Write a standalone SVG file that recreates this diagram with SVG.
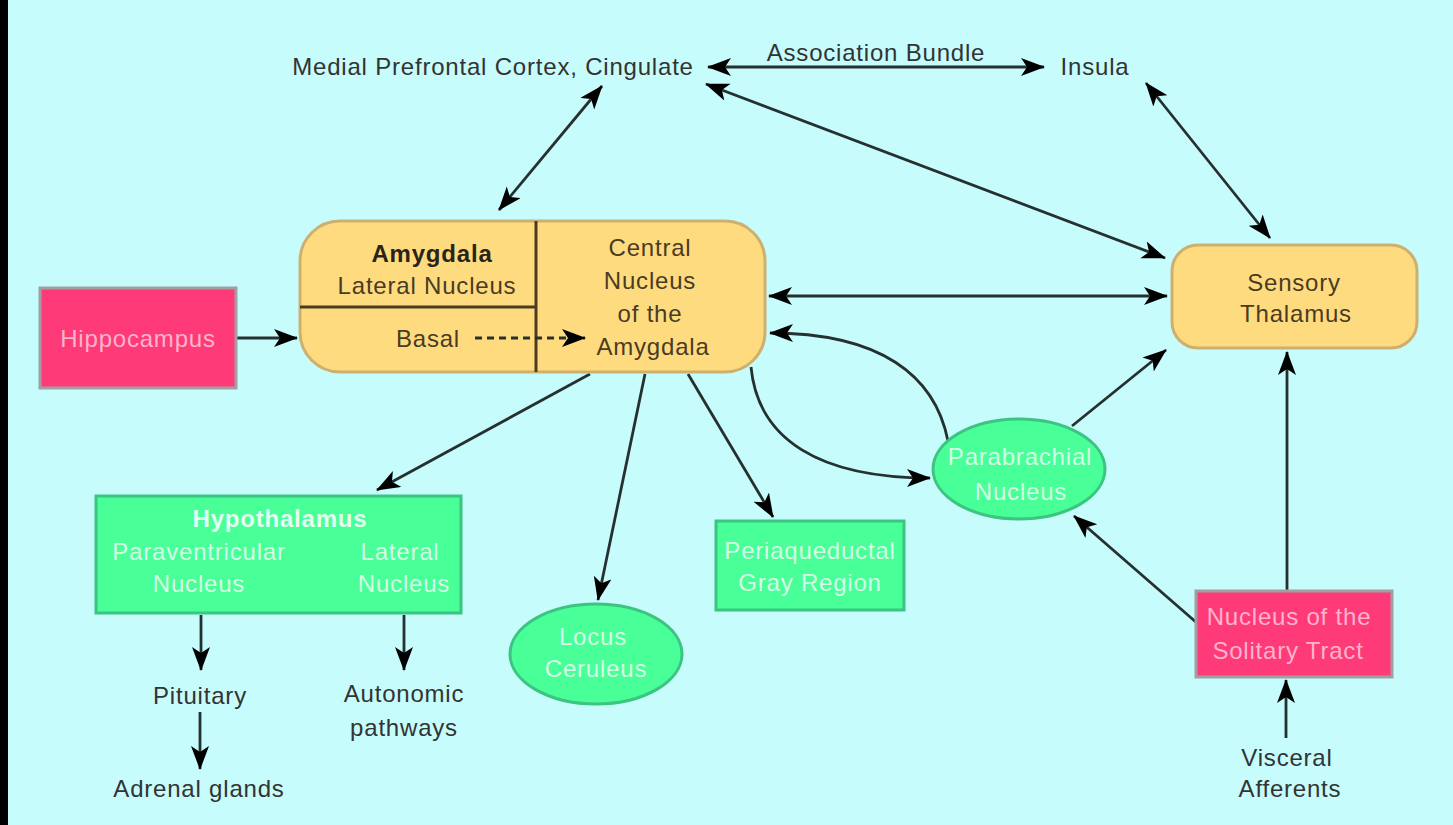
<svg xmlns="http://www.w3.org/2000/svg" width="1453" height="825" viewBox="0 0 1453 825">
<style>
text{font-family:"Liberation Sans",Arial,sans-serif;font-size:24px;letter-spacing:0.8px;text-anchor:middle}
.lbl{fill:#333}
.amy{fill:#4a3c22}
.grn{fill:#d4ffe4}
.pnk{fill:#ffb3cc}
.b{font-weight:bold;fill:#2a2418}
.grn.b{fill:#e4fff0}
.orange{fill:#ffdb80;stroke:#cdb06e;stroke-width:3}
.green{fill:#48ff98;stroke:#3cc482;stroke-width:3}
.pink{fill:#ff3a78;stroke:#a0a0a0;stroke-width:3}
.edge{fill:none;stroke:#263030;stroke-width:2.8}
</style>
<defs>
<marker id="ah" markerUnits="userSpaceOnUse" markerWidth="28" markerHeight="20" refX="23" refY="9" orient="auto-start-reverse" viewBox="0 0 28 20">
<path d="M0,0 L24,9 L0,18 L6,9 Z" fill="#000"/>
</marker>
</defs>
<rect x="0" y="0" width="1453" height="825" fill="#c6fcfc"/>
<rect x="0" y="0" width="8" height="825" fill="#000"/>

<g id="connectors">
<line class="edge" x1="602" y1="86" x2="499" y2="210" marker-start="url(#ah)" marker-end="url(#ah)"/>
<line class="edge" x1="708" y1="67" x2="1044" y2="67" marker-start="url(#ah)" marker-end="url(#ah)"/>
<line class="edge" x1="1146" y1="83" x2="1270" y2="238" marker-start="url(#ah)" marker-end="url(#ah)"/>
<line class="edge" x1="706" y1="84" x2="1165" y2="258" marker-start="url(#ah)" marker-end="url(#ah)"/>
<line class="edge" x1="769" y1="296" x2="1167" y2="296" marker-start="url(#ah)" marker-end="url(#ah)"/>
<line class="edge" x1="237" y1="338" x2="297" y2="338" marker-end="url(#ah)"/>
<line class="edge" x1="590" y1="374" x2="377" y2="490" marker-end="url(#ah)"/>
<line class="edge" x1="645" y1="374" x2="598" y2="600" marker-end="url(#ah)"/>
<line class="edge" x1="688" y1="374" x2="773" y2="517" marker-end="url(#ah)"/>
<path class="edge" d="M751,367 C758,440 820,478 930,478" marker-end="url(#ah)"/>
<path class="edge" d="M948,441 C935,375 880,333 770,333" marker-end="url(#ah)"/>
<line class="edge" x1="1072" y1="426" x2="1166" y2="350" marker-end="url(#ah)"/>
<line class="edge" x1="1197" y1="623" x2="1074" y2="516" marker-end="url(#ah)"/>
<line class="edge" x1="1287" y1="590" x2="1287" y2="352" marker-end="url(#ah)"/>
<line class="edge" x1="1286" y1="738" x2="1286" y2="680" marker-end="url(#ah)"/>
<line class="edge" x1="201" y1="615" x2="201" y2="670" marker-end="url(#ah)"/>
<line class="edge" x1="200" y1="712" x2="200" y2="769" marker-end="url(#ah)"/>
<line class="edge" x1="404" y1="615" x2="404" y2="670" marker-end="url(#ah)"/>
</g>

<g id="mpfc"><text class="lbl" x="493" y="75">Medial Prefrontal Cortex, Cingulate</text></g>
<g id="assoc"><text class="lbl" x="876" y="61">Association Bundle</text></g>
<g id="insula"><text class="lbl" x="1095" y="75">Insula</text></g>

<g id="amygdala">
<rect class="orange" x="300" y="221" width="465" height="151" rx="40"/>
<line x1="536" y1="221" x2="536" y2="372" stroke="#4a3c22" stroke-width="3"/>
<line x1="300" y1="307" x2="536" y2="307" stroke="#4a3c22" stroke-width="3"/>
<line x1="475" y1="338" x2="585" y2="338" stroke="#263030" stroke-width="2.8" stroke-dasharray="7,5" marker-end="url(#ah)"/>
<text class="b" x="432" y="262">Amygdala</text>
<text class="amy" x="427" y="294">Lateral Nucleus</text>
<text class="amy" x="428" y="347">Basal</text>
<text class="amy" x="650" y="256">Central</text>
<text class="amy" x="650" y="289">Nucleus</text>
<text class="amy" x="650" y="322">of the</text>
<text class="amy" x="653" y="355">Amygdala</text>
</g>

<g id="hippocampus">
<rect class="pink" x="40" y="288" width="196" height="100"/>
<text class="pnk" x="138" y="347">Hippocampus</text>
</g>

<g id="thalamus">
<rect class="orange" x="1172" y="245" width="245" height="103" rx="26"/>
<text class="amy" x="1294" y="291">Sensory</text>
<text class="amy" x="1296" y="322">Thalamus</text>
</g>

<g id="hypothalamus">
<rect class="green" x="96" y="496" width="365" height="117"/>
<text class="grn b" x="280" y="527">Hypothalamus</text>
<text class="grn" x="199" y="560">Paraventricular</text>
<text class="grn" x="199" y="592">Nucleus</text>
<text class="grn" x="400" y="560">Lateral</text>
<text class="grn" x="404" y="592">Nucleus</text>
</g>

<g id="locus">
<ellipse class="green" cx="596" cy="654" rx="86" ry="50"/>
<text class="grn" x="593" y="645">Locus</text>
<text class="grn" x="596" y="677">Ceruleus</text>
</g>

<g id="pag">
<rect class="green" x="716" y="521" width="188" height="89"/>
<text class="grn" x="810" y="559">Periaqueductal</text>
<text class="grn" x="810" y="591">Gray Region</text>
</g>

<g id="parabrachial">
<ellipse class="green" cx="1019" cy="469" rx="86" ry="50"/>
<text class="grn" x="1020" y="465">Parabrachial</text>
<text class="grn" x="1021" y="500">Nucleus</text>
</g>

<g id="nts">
<rect class="pink" x="1196" y="591" width="196" height="86"/>
<text class="pnk" x="1289" y="625">Nucleus of the</text>
<text class="pnk" x="1288" y="659">Solitary Tract</text>
</g>

<g id="pituitary"><text class="lbl" x="200" y="704">Pituitary</text></g>
<g id="adrenal"><text class="lbl" x="199" y="797">Adrenal glands</text></g>
<g id="autonomic">
<text class="lbl" x="404" y="702">Autonomic</text>
<text class="lbl" x="404" y="736">pathways</text>
</g>
<g id="visceral">
<text class="lbl" x="1287" y="766">Visceral</text>
<text class="lbl" x="1290" y="797">Afferents</text>
</g>
</svg>
